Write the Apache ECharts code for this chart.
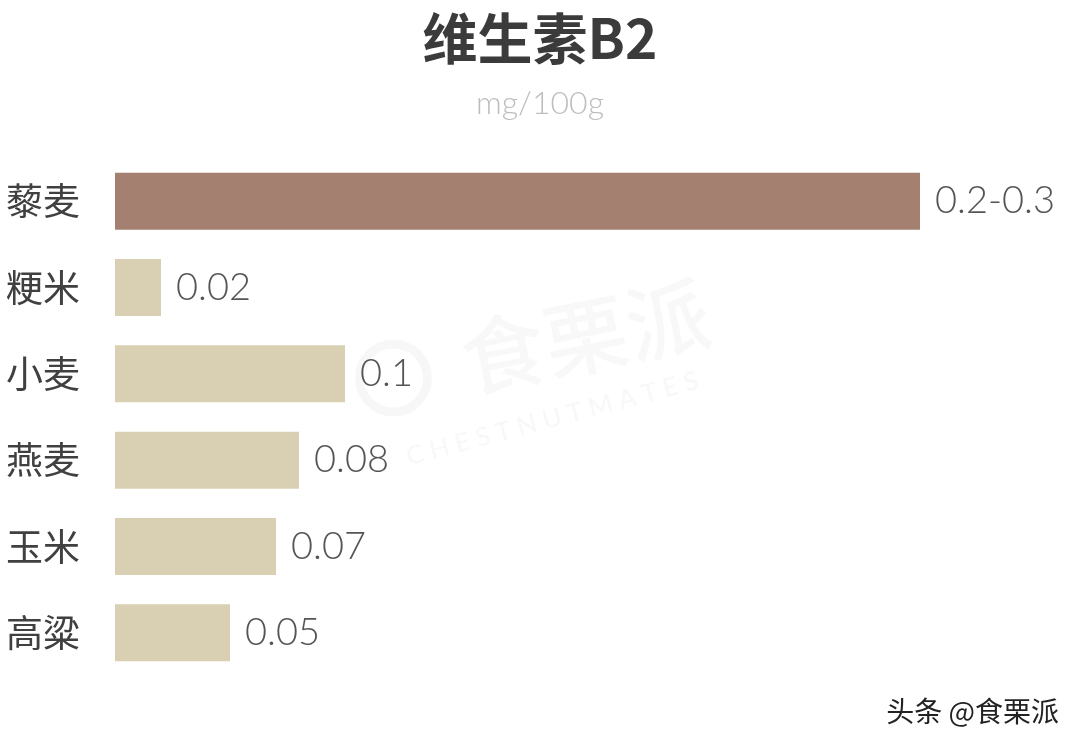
<!DOCTYPE html>
<html>
<head>
<meta charset="utf-8">
<script src="https://cdn.jsdelivr.net/npm/echarts@6/dist/echarts.min.js"></script>
<style>
  html, body { margin: 0; padding: 0; background: #ffffff; }
  #chart { width: 1080px; height: 749px; }
</style>
</head>
<body>
<div id="chart"></div>
<script>
// Grains and their vitamin B2 content (mg/100g)
const categories = ['藜麦', '粳米', '小麦', '燕麦', '玉米', '高粱'];
const values = [0.35, 0.02, 0.1, 0.08, 0.07, 0.05];
const valueLabels = ['0.2-0.3', '0.02', '0.1', '0.08', '0.07', '0.05'];
const highlightIndex = 0;

const chart = echarts.init(document.getElementById('chart'), null, { renderer: 'canvas' });

const labelFont = 'Lato, "Open Sans", "Noto Sans", sans-serif';
const cjkFont = '"Noto Sans CJK SC", "Noto Sans", sans-serif';

chart.setOption({
  backgroundColor: '#ffffff',
  animation: false,
  title: {
    text: '维生素B2',
    subtext: 'mg/100g',
    left: 'center',
    top: 6,
    itemGap: 22,
    textStyle: { fontFamily: cjkFont, fontSize: 55, fontWeight: 'bold', color: '#3b3b3b' },
    subtextStyle: { fontFamily: labelFont, fontSize: 32, fontWeight: 300, color: '#bdbdbd' }
  },
  grid: { left: 115, right: 45, top: 158, bottom: 73, containLabel: false },
  xAxis: {
    type: 'value',
    min: 0,
    max: 0.4,
    show: false
  },
  yAxis: {
    type: 'category',
    data: categories,
    inverse: true,
    axisLine: { show: false },
    axisTick: { show: false },
    splitLine: { show: false },
    axisLabel: {
      margin: 35,
      fontFamily: cjkFont,
      fontSize: 37,
      color: '#404040'
    }
  },
  series: [{
    type: 'bar',
    data: values.map((v, i) => ({
      value: v,
      itemStyle: { color: i === highlightIndex ? '#a3806f' : '#d9cfb3' }
    })),
    barWidth: 57,
    label: {
      show: true,
      position: 'right',
      distance: 15,
      fontFamily: labelFont,
      fontSize: 38,
      fontWeight: 300,
      color: '#555555',
      formatter: p => valueLabels[p.dataIndex]
    }
  }],
  graphic: [
    // faint brand watermark across the middle
    {
      type: 'group',
      left: 355,
      top: 270,
      silent: true,
      children: [
        { type: 'circle', shape: { cx: 40, cy: 118, r: 34 },
          style: { fill: 'none', stroke: 'rgba(0,0,0,0.03)', lineWidth: 9 } },
        { type: 'text', x: 100, y: 60, rotation: 0.2,
          style: { text: '食栗派', font: '500 84px "Noto Sans CJK SC", sans-serif', fill: 'rgba(0,0,0,0.028)' } },
        { type: 'text', x: 50, y: 185, rotation: 0.26,
          style: { text: 'C H E S T N U T M A T E S', font: '600 26px Lato, sans-serif', fill: 'rgba(0,0,0,0.028)' } }
      ]
    },
    {
      type: 'text',
      right: 21,
      top: 697,
      style: {
        text: '头条 @食栗派',
        font: '28px "Noto Sans CJK SC", sans-serif',
        fill: '#222222',
        textShadowColor: 'rgba(255,255,255,0.9)',
        textShadowBlur: 2
      }
    }
  ]
});
</script>
</body>
</html>
